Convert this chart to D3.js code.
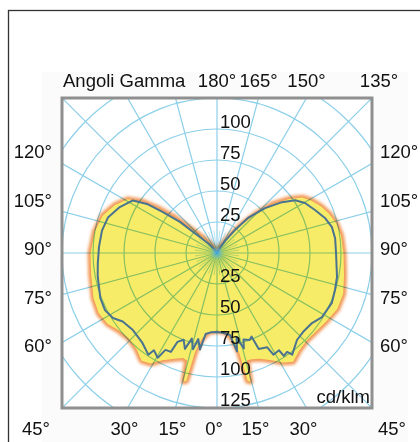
<!DOCTYPE html>
<html>
<head>
<meta charset="utf-8">
<script src="https://cdn.jsdelivr.net/npm/d3@7"></script>
<style>
  body { margin: 0; background: #fff; }
  svg { display: block; font-family: "Liberation Sans", Arial, sans-serif; }
</style>
</head>
<body>
<svg id="chart" width="420" height="442"></svg>
<script>
// gamma angles (degrees, 0 = down, negative = left half) and intensity in cd/klm
const planeAAngles = [-180, -150, -142, -136, -133, -130, -127, -124.5, -121, -115, -108, -100, -90, -80, -70, -63, -57, -52, -46, -40, -35, -31, -27, -22, -18, -15.5, -14.5, -13.5, -12.5, -10, -6, 0,
  6, 10, 12.5, 13.5, 14.5, 15.5, 18, 22, 27, 31, 35, 40, 46, 52, 58, 65, 72, 80, 90, 98, 104, 109, 114, 119, 123, 127, 131, 135, 139, 143, 147, 152, 180];
const planeAValues = [0, 4, 10, 18, 27, 44, 60, 73, 84, 91, 97, 100, 102, 103, 106, 107, 105, 101, 99, 101, 106, 104, 97, 92, 89, 90, 107, 106, 82, 70, 64, 62.5,
  64, 70, 82, 106, 107, 90, 90, 92, 97, 103, 107, 103, 101, 102, 104, 107, 107, 104, 102, 101, 99, 96, 92, 87, 82, 72, 60, 45, 30, 17, 8, 3, 0];

const planeBAngles = [-180, -145, -138, -134, -132, -130, -127, -125, -122, -115, -108, -101, -93, -85, -79, -69, -63, -58, -54, -47.5, -40, -34, -33, -29.5, -28, -25, -24, -21, -18.5, -16.4, -14, -12.3, -10, -8, -4, 0,
  4, 9, 11.5, 13, 15.7, 17, 20.5, 22.5, 23.5, 28, 29, 32.5, 33, 35.3, 36.5, 42.6, 47.4, 53.6, 58.6, 66.5, 72.6, 78.7, 90, 97, 102.7, 108, 113.7, 119.6, 124, 128, 133, 138.5, 142, 146, 150, 180];
const planeBValues = [0, 3, 10, 16, 22, 39, 55, 69, 80, 87, 92.5, 94.5, 95.3, 96.5, 98, 100.8, 101.4, 99, 94, 92, 94, 99, 93.5, 97, 88.5, 88, 78.5, 75, 81.5, 72, 80, 71, 79, 66, 64, 63.7,
  64.5, 67, 81, 70, 80, 73, 75, 73, 84.5, 86, 93.8, 93, 99, 97.8, 102, 95.3, 94.2, 95.2, 99.2, 101, 99.7, 98.7, 96, 96, 95, 91.5, 86.3, 81.6, 76, 66.6, 53, 37.7, 23.5, 12, 5, 0];

const ringValues = [25, 50, 75, 100, 125, 150, 175];
const upLabels = [25, 50, 75, 100];
const downLabels = [25, 50, 75, 100, 125];
const topLabels = [180, 165, 150, 135];
const sideLabels = [120, 105, 90, 75, 60];
const bottomLabels = [-45, -30, -15, 0, 15, 30, 45];

const cx = 217;
const cy = 253;
const half = 155;
const gridColor = '#8ccfe9';

const r = d3.scaleLinear().domain([0, 125]).range([0, half]);
const rad = a => (Math.PI - a * Math.PI / 180); // gamma -> d3 radial angle

const svg = d3.select('#chart');
const defs = svg.append('defs');

defs.append('clipPath').attr('id', 'sq')
  .append('rect')
  .attr('x', cx - half).attr('y', cy - half)
  .attr('width', half * 2).attr('height', half * 2);

defs.append('filter').attr('id', 'glow')
  .attr('x', '-20%').attr('y', '-20%').attr('width', '140%').attr('height', '140%')
  .append('feGaussianBlur').attr('stdDeviation', 1.8);

const cg = defs.append('radialGradient').attr('id', 'centerGlow');
cg.append('stop').attr('offset', '0%').attr('stop-color', '#3aa6dc').attr('stop-opacity', 1);
cg.append('stop').attr('offset', '100%').attr('stop-color', '#8ccfe9').attr('stop-opacity', 0);

// outer frame and faint scan background
svg.append('rect')
  .attr('x', 42).attr('y', 72).attr('width', 366).attr('height', 370)
  .attr('fill', '#fbfbfb');
svg.append('rect')
  .attr('x', 8.5).attr('y', 10.5).attr('width', 430).attr('height', 450)
  .attr('fill', 'none').attr('stroke', '#333').attr('stroke-width', 1.3);

svg.append('rect')
  .attr('x', cx - half).attr('y', cy - half)
  .attr('width', half * 2).attr('height', half * 2)
  .attr('fill', '#fff');

// grid
const grid = svg.append('g')
  .attr('clip-path', 'url(#sq)')
  .append('g')
  .attr('transform', `translate(${cx},${cy})`);

grid.selectAll('circle.ring')
  .data(ringValues)
  .enter()
  .append('circle')
  .attr('class', 'ring')
  .attr('r', d => r(d))
  .attr('fill', 'none')
  .attr('stroke', gridColor)
  .attr('stroke-width', 1.2);

grid.selectAll('line.spoke')
  .data(d3.range(0, 360, 15))
  .enter()
  .append('line')
  .attr('class', 'spoke')
  .attr('x2', d => r(200) * Math.sin(d * Math.PI / 180))
  .attr('y2', d => r(200) * Math.cos(d * Math.PI / 180))
  .attr('stroke', gridColor)
  .attr('stroke-width', 1.2);

grid.selectAll('line.fine')
  .data(d3.range(0, 360, 7.5).filter(d => d % 15 !== 0))
  .enter()
  .append('line')
  .attr('class', 'fine')
  .attr('x2', d => r(18) * Math.sin(d * Math.PI / 180))
  .attr('y2', d => r(18) * Math.cos(d * Math.PI / 180))
  .attr('stroke', gridColor)
  .attr('stroke-opacity', 0.7)
  .attr('stroke-width', 0.8);

// photometric curves
const planeA = planeAAngles.map((a, i) => ({ a, v: planeAValues[i] }));
const planeB = planeBAngles.map((a, i) => ({ a, v: planeBValues[i] }));

const radial = d3.lineRadial()
  .angle(d => rad(d.a))
  .radius(d => r(d.v))
  .curve(d3.curveLinearClosed);

const curves = svg.append('g')
  .attr('transform', `translate(${cx},${cy})`);

const fillGroup = curves.append('g').style('mix-blend-mode', 'multiply');
fillGroup.append('path')
  .attr('d', radial(planeA))
  .attr('fill', '#f4a55a')
  .attr('stroke', '#f29a58')
  .attr('stroke-width', 6)
  .attr('stroke-linejoin', 'round')
  .attr('filter', 'url(#glow)');
fillGroup.append('path')
  .attr('d', radial(planeA))
  .attr('fill', '#f7ec68');

curves.append('path')
  .attr('d', radial(planeB))
  .attr('fill', 'none')
  .attr('stroke', '#4a7390')
  .attr('stroke-width', 2)
  .attr('stroke-linejoin', 'round');

curves.append('circle')
  .attr('r', 7)
  .attr('fill', 'url(#centerGlow)');

// square border
svg.append('rect')
  .attr('x', cx - half).attr('y', cy - half)
  .attr('width', half * 2).attr('height', half * 2)
  .attr('fill', 'none')
  .attr('stroke', '#8f8f8f')
  .attr('stroke-width', 3);

// texts
const fs = 18.5;
const txt = svg.append('g')
  .attr('font-size', fs)
  .attr('fill', '#111');

txt.selectAll('text.up')
  .data(upLabels)
  .enter()
  .append('text')
  .attr('x', cx + 3)
  .attr('y', d => cy - r(d) - 1)
  .text(d => d);

txt.selectAll('text.down')
  .data(downLabels)
  .enter()
  .append('text')
  .attr('x', cx + 3)
  .attr('y', d => cy + r(d) - 2)
  .text(d => d);

txt.append('text')
  .attr('x', cx + half - 2)
  .attr('y', cy + half - 5)
  .attr('text-anchor', 'end')
  .text('cd/klm');

txt.append('text')
  .attr('x', cx - half + 1)
  .attr('y', 87)
  .text('Angoli Gamma');

const tan = a => Math.tan(a * Math.PI / 180);

txt.selectAll('text.top')
  .data(topLabels)
  .enter()
  .append('text')
  .attr('x', d => cx + half * tan(180 - d) + (d === 135 ? 7 : 0))
  .attr('y', 87)
  .attr('text-anchor', 'middle')
  .text(d => `${d}°`);

const sideY = d3.scalePoint().domain(sideLabels).range([151.5, 345.5]);

txt.selectAll('text.left')
  .data(sideLabels)
  .enter()
  .append('text')
  .attr('x', cx - half - 10)
  .attr('y', d => sideY(d))
  .attr('dy', '0.36em')
  .attr('text-anchor', 'end')
  .text(d => `${d}°`);

txt.selectAll('text.right')
  .data(sideLabels)
  .enter()
  .append('text')
  .attr('x', cx + half + 8)
  .attr('y', d => sideY(d))
  .attr('dy', '0.36em')
  .text(d => `${d}°`);

txt.selectAll('text.bottom')
  .data(bottomLabels)
  .enter()
  .append('text')
  .attr('x', d => cx + half * tan(d) + (Math.abs(d) === 45 ? Math.sign(d) * 23 : 0) - 3)
  .attr('y', 435)
  .attr('text-anchor', 'middle')
  .text(d => `${Math.abs(d)}°`);
</script>
</body>
</html>
